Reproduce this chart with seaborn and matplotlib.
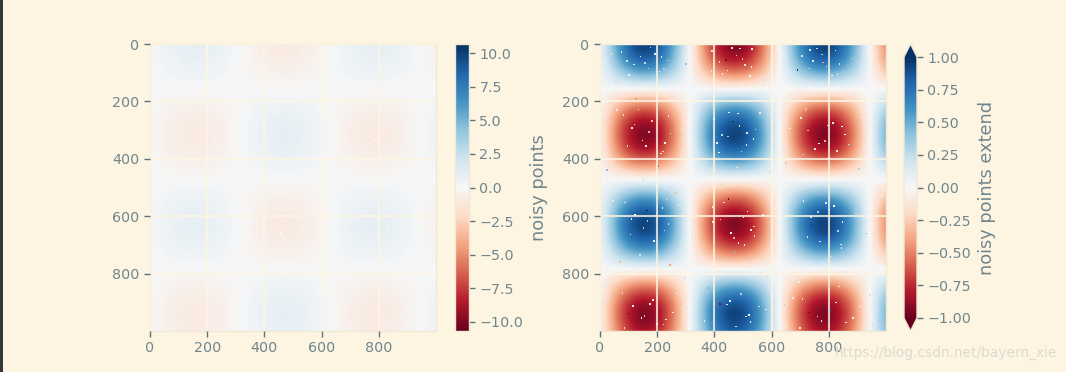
import numpy as np
import matplotlib
matplotlib.use("Agg")
import matplotlib.pyplot as plt
from matplotlib.patches import Rectangle
import seaborn as sns

# Wave profiles, every 50 image units
grid_pos = [-25, 1025]
col_profile = [0.0, 0.48, 0.84, 1.0, 0.91, 0.60, 0.14, -0.35, -0.76, -0.98, -0.96,
               -0.71, -0.28, 0.22, 0.66, 0.94, 1.0, 0.80, 0.43, -0.06, -0.54]
row_profile = [1.0, 0.88, 0.54, 0.07, -0.42, -0.80, -0.99, -0.94, -0.65, -0.21, 0.28,
               0.71, 0.96, 0.98, 0.75, 0.35, -0.15, -0.60, -0.91, -1.0, -0.84]

# Speckles
speck_x = [40, 95, 130, 170, 215, 260, 300, 345, 390, 440, 490, 530, 575, 640, 690, 735, 780, 830, 880, 935, 975,
           60, 120, 185, 240, 285, 335, 410, 465, 515, 560, 610, 665, 720, 765, 815, 870, 920, 960,
           25, 80, 150, 205, 250, 310, 370, 425, 480, 545, 595, 650, 705, 750, 800, 855, 905, 950, 990,
           45, 110, 165, 225, 275, 325, 395, 450, 505, 570, 625, 680, 740, 790, 845, 895, 940,
           70, 140, 195, 245, 295, 355, 415, 470, 525, 585, 635, 695, 755, 810, 865, 915, 970,
           35, 100, 175, 230, 270, 340, 400, 455, 510, 555, 620, 675, 730, 775, 825, 885, 945,
           55, 125, 160, 220, 265, 320, 380, 435, 495, 540, 600, 660, 710, 770, 835, 890, 930, 985,
           85, 145, 200, 255, 305, 365, 420, 475, 520, 580, 645, 700, 760, 805, 860, 910, 955]
speck_y = [35, 60, 20, 85, 45, 110, 70, 30, 95, 55, 15, 80, 125, 40, 90, 20, 65, 105, 50, 30, 120,
           230, 280, 320, 250, 300, 215, 345, 270, 310, 240, 360, 295, 225, 330, 275, 350, 255, 305,
           440, 400, 470, 425, 500, 455, 410, 490, 430, 475, 445, 415, 505, 460, 395, 480, 435, 420, 465,
           545, 610, 580, 650, 560, 690, 620, 540, 700, 595, 665, 570, 635, 555, 710, 590, 640,
           760, 735, 800, 770, 815, 745, 790, 725, 780, 810, 750, 830, 765, 740, 795, 775, 820,
           880, 940, 905, 960, 870, 925, 985, 895, 950, 915, 975, 885, 935, 965, 900, 955, 875,
           130, 190, 355, 375, 520, 680, 850, 145, 375, 670, 860, 180, 385, 525, 845, 200, 660, 530,
           990, 955, 975, 935, 920, 965, 905, 985, 945, 925, 910, 990, 950, 930, 970, 915, 980]
speck_v = [-0.1, 0.2, 0.9, -0.3, 0.1, 0.05, 0.4, -0.2, 0.15, -0.95, 0.2, 0.05, 0.3, 0.0, 0.95, 0.2, -0.4, 0.1, 0.25, 0.1, -0.1,
           0.1, -0.2, -0.98, 0.2, 0.05, 0.15, 0.1, 0.98, -0.2, -0.1, 0.3, -0.1, 0.15, -0.96, 0.1, 0.3, -0.1, 0.05,
           0.4, -0.3, 0.2, -0.6, 0.3, 0.1, -0.1, 0.3, -0.2, 0.05, 0.2, -0.3, 0.15, 0.05, -0.2, 0.1, 0.3, -0.1, 0.2,
           0.05, 0.1, 0.98, -0.2, 0.1, -0.1, -0.1, -0.98, 0.1, 0.1, 0.05, 0.2, 0.96, 0.1, -0.1, -0.2, 0.1,
           -0.3, 0.2, 0.1, -0.4, 0.3, 0.05, -0.2, 0.4, 0.1, -0.3, 0.2, 0.05, 0.3, -0.2, 0.1, -0.1, 0.3,
           0.2, -0.95, -0.1, 0.1, 0.05, 0.2, 0.95, 0.1, -0.1, 0.2, -0.2, 0.05, -0.92, 0.1, -0.1, 0.05, 0.2,
           0.3, -0.5, 0.1, -0.2, -0.3, 0.2, 0.5, -0.1, 0.25, -0.2, 0.4, -0.15, 0.3, -0.4, 0.1, -0.2, 0.35, 0.1,
           -0.2, 0.05, 0.2, -0.1, 0.15, 0.1, -0.9, 0.2, 0.05, 0.1, 0.3, -0.05, 0.15, 0.9, 0.1, -0.1, 0.2]

# Pale specks seen inside the dark squares
pale_x = [75, 118, 142, 176, 208, 236, 102, 158, 193, 224,
          392, 418, 446, 478, 506, 532, 428, 462, 498, 524,
          706, 732, 758, 792, 824, 852, 744, 776, 812, 838,
          82, 112, 148, 182, 214, 246, 96, 134, 172, 228,
          398, 426, 452, 488, 512, 544, 416, 448, 482, 536,
          702, 728, 766, 796, 828, 856, 718, 752, 786, 846,
          88, 122, 152, 188, 218, 240, 106, 166, 198, 232,
          394, 422, 458, 484, 516, 538, 434, 468, 502, 528,
          712, 738, 770, 802, 832, 848, 726, 762, 818, 842,
          78, 116, 156, 186, 222, 398, 444, 492, 526, 708]
pale_y = [28, 72, 44, 12, 96, 58, 108, 66, 34, 88,
          24, 62, 92, 40, 74, 18, 104, 14, 52, 112,
          42, 86, 16, 78, 22, 98, 60, 36, 110, 70,
          248, 292, 336, 268, 382, 312, 356, 228, 306, 344,
          262, 318, 238, 286, 352, 298, 378, 322, 242, 332,
          258, 302, 346, 284, 372, 316, 232, 366, 338, 288,
          552, 596, 642, 686, 572, 628, 664, 616, 702, 542,
          568, 612, 658, 694, 584, 636, 552, 676, 604, 648,
          548, 602, 688, 576, 652, 620, 672, 586, 564, 698,
          868, 912, 948, 892, 978, 862, 908, 872, 968, 888]
pale_v = [0.05, 0.15, -0.05, 0.3, 0.1, 0.2, 0.0, 0.25, 0.1, 0.35,
          -0.1, -0.25, 0.05, -0.3, -0.15, -0.05, 0.1, -0.2, -0.35, 0.0,
          0.2, 0.05, 0.3, 0.1, -0.05, 0.25, 0.15, 0.35, 0.0, 0.1,
          -0.2, -0.05, 0.1, -0.3, -0.15, 0.05, -0.25, -0.1, -0.35, 0.0,
          0.15, 0.3, -0.05, 0.2, 0.1, 0.25, 0.0, 0.35, 0.05, 0.15,
          -0.1, -0.3, 0.05, -0.2, -0.15, 0.1, -0.25, -0.05, -0.35, 0.0,
          0.2, 0.05, 0.3, 0.1, -0.05, 0.25, 0.15, 0.35, 0.0, 0.1,
          -0.15, -0.3, 0.05, -0.2, -0.05, -0.25, 0.1, -0.35, 0.0, -0.1,
          0.05, 0.25, 0.15, -0.05, 0.3, 0.1, 0.2, 0.35, 0.0, 0.15,
          -0.2, 0.05, -0.3, -0.1, -0.25, 0.2, 0.1, 0.3, 0.05, -0.15]

axis_ticks = [0, 200, 400, 600, 800]
left_cbar_ticks = [-10.0, -7.5, -5.0, -2.5, 0.0, 2.5, 5.0, 7.5, 10.0]
right_cbar_ticks = [-1.0, -0.75, -0.5, -0.25, 0.0, 0.25, 0.5, 0.75, 1.0]
left_limit = 10.7
right_limit = 1.0
left_label = "noisy points"
right_label = "noisy points extend"
watermark = "https://blog.csdn.net/bayern_xie"

BG = "#fdf5e2"
EDGE = "#efe9d6"
TEXT = "#70868d"
TICK = "#5d7279"
W, H = 1066, 372

sns.set_theme(style="ticks", rc={
    "figure.facecolor": BG, "axes.facecolor": EDGE, "axes.edgecolor": EDGE,
    "xtick.color": TICK, "ytick.color": TICK, "xtick.labelcolor": TEXT, "ytick.labelcolor": TEXT,
    "axes.labelcolor": TEXT, "xtick.labelsize": 10.3, "ytick.labelsize": 10.3,
    "axes.linewidth": 1.0,
})
plt.rcParams["font.family"] = ["DejaVu Sans"]
cmap = sns.color_palette("RdBu", as_cmap=True)
matrix = np.outer(row_profile, col_profile)
all_x = speck_x + pale_x
all_y = speck_y + pale_y
all_v = speck_v + pale_v


def box(x, y, w, h):
    return [x / W, 1 - (y + h) / H, w / W, h / H]


def panel(px, cx, cw, limit, ticks, label, extend, label_x):
    ax = fig.add_axes(box(px, 44, 286, 287))
    im = ax.imshow(matrix, cmap=cmap, vmin=-limit, vmax=limit, interpolation="bicubic",
                   extent=[grid_pos[0], grid_pos[1], grid_pos[1], grid_pos[0]], aspect="auto", zorder=1)
    ax.scatter(all_x, all_y, c=all_v, cmap=cmap, vmin=-limit, vmax=limit,
               marker="s", s=1.3, linewidths=0, zorder=2)
    ax.set_xlim(0, 1000)
    ax.set_ylim(1000, 0)
    ax.set_xticks(axis_ticks)
    ax.set_yticks(axis_ticks)
    ax.grid(True, color="#fdf6e3", linewidth=1.5, alpha=0.8, zorder=3)
    ax.set_axisbelow(False)
    ax.tick_params(length=4, width=1)
    cax = fig.add_axes(box(cx, 44, cw, 287))
    cb = fig.colorbar(im, cax=cax, extend=extend)
    cb.set_ticks(ticks)
    cb.ax.tick_params(length=4, width=1)
    cb.outline.set_edgecolor(EDGE)
    fig.text(label_x / W, 1 - 188 / H, label, rotation=90, color=TEXT,
             fontsize=12.8, ha="center", va="center")
    return ax


fig = plt.figure(figsize=(W / 100, H / 100), dpi=100, facecolor=BG)
panel(150, 455, 14, left_limit, left_cbar_ticks, left_label, "neither", 539)
panel(600, 904, 13, right_limit, right_cbar_ticks, right_label, "both", 987)
fig.add_artist(Rectangle((0, 0), 3 / W, 1, transform=fig.transFigure, color="#33373a", lw=0))
fig.text(1057 / W, 1 - 353 / H, watermark, color="#dedad0", fontsize=9.9,
         ha="right", va="center", family="DejaVu Sans")
fig.savefig("out.png", dpi=100, facecolor=BG)
